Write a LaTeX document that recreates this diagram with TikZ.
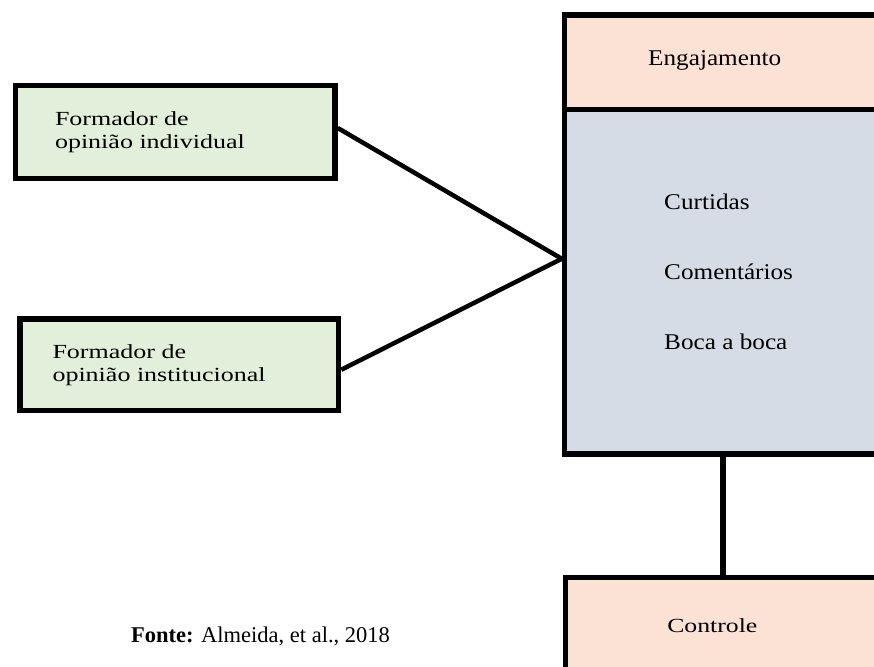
\documentclass[tikz,border=0pt]{standalone}
\usepackage{fontspec}
\setmainfont{Liberation Serif}
\usepackage{tikz}
\definecolor{verde}{HTML}{E2EFDA}
\definecolor{salmao}{HTML}{FBE2D5}
\definecolor{cinza}{HTML}{D6DCE5}
\tikzset{
  caixa/.style={draw, line width=5.5pt, inner sep=0pt},
  ligacao/.style={line width=4.5pt},
  rotulo/.style={font=\fontsize{20}{23}\selectfont, align=left, inner sep=0pt, xscale=1.3, transform shape},
  item/.style={font=\fontsize{22.5}{26}\selectfont, inner sep=0pt, anchor=base west, xscale=1.12, transform shape}
}

\begin{document}
\begin{tikzpicture}[x=1pt,y=-1pt]
     \useasboundingbox (0,0) rectangle (874,666);
     \clip (0,0) rectangle (874,666);

     % formadores de opiniao
     \node[caixa, fill=verde, minimum width=319.5pt, minimum height=93pt] (indiv) at (175.25,132) {};
     \node[caixa, fill=verde, minimum width=318.5pt, minimum height=91.5pt] (instit) at (179.25,364.75) {};
     \node[rotulo, anchor=west] (indivtxt) at ([xshift=42pt]indiv.west) {Formador de\\opinião individual};
     \node[rotulo, anchor=west] (instittxt) at ([xshift=35pt]instit.west) {Formador de\\opinião institucional};

     % engajamento
     \node[caixa, fill=salmao, minimum width=435.5pt, minimum height=94.5pt] (engaj) at (782.25,62.25) {};
     \node[caixa, fill=cinza, minimum width=435.5pt, minimum height=344.5pt] (corpo) at (782.25,281.75) {};
     \node[item] (engajtxt) at (648,66) {Engajamento};
     \foreach \t/\y [count=\i] in {Curtidas/209, Comentários/279, Boca a boca/349}
       \node[item] (item\i) at (664,\y) {\t};

     % controle
     \node[caixa, fill=salmao, minimum width=315pt, minimum height=150pt] (contr) at (723,652.5) {};
     \node[item, xscale=1.15] (contrtxt) at (667,632) {\fontsize{20}{23}\selectfont Controle};

     \draw[ligacao] ([yshift=4pt]indiv.east) -- ([yshift=23pt]corpo.west);
     \draw[ligacao] ([yshift=-5pt]instit.east) -- ([yshift=23pt]corpo.west);
     \draw[line width=5.5pt] (contr.north) -- (contr.north |- corpo.south);

     \node[font=\fontsize{22.5}{26}\selectfont, anchor=base west, inner sep=0pt] (fonte) at (131,642) {\textbf{Fonte:} Almeida, et al., 2018};
\end{tikzpicture}
\end{document}
